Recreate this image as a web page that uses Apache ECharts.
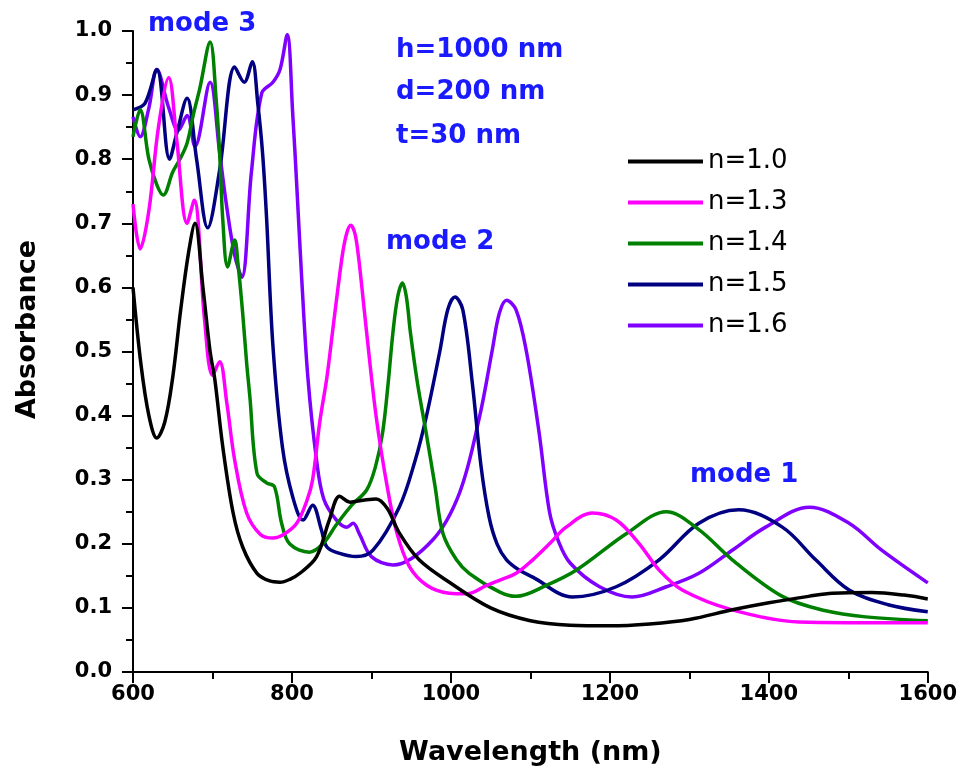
<!DOCTYPE html>
<html>
<head>
<meta charset="utf-8">
<script src="https://cdn.jsdelivr.net/npm/echarts@6/dist/echarts.min.js"></script>
<style>
  html, body { margin: 0; padding: 0; background: #fff; }
  #chart { width: 960px; height: 775px; }
</style>
</head>
<body>
<div id="chart"></div>
<script>
// absorbance spectra: [wavelength nm, absorbance]
var n10 = [[600,0.60],[610,0.48],[620,0.40],[630,0.365],[640,0.39],[650,0.46],[660,0.565],[670,0.655],[678,0.70],[688,0.60],[697,0.50],[703,0.456],[713,0.351],[726,0.248],[738,0.195],[756,0.154],[772,0.142],[785,0.14],[798,0.145],[810,0.154],[831,0.18],[847,0.237],[860,0.274],[873,0.265],[890,0.268],[906,0.27],[920,0.255],[935,0.217],[960,0.175],[998,0.14],[1050,0.10],[1100,0.08],[1150,0.073],[1200,0.072],[1250,0.075],[1300,0.082],[1354,0.097],[1400,0.108],[1450,0.118],[1480,0.123],[1530,0.124],[1570,0.12],[1600,0.114]];

var n13 = [[600,0.73],[609,0.66],[620,0.72],[632,0.85],[645,0.927],[655,0.83],[668,0.70],[677,0.736],[690,0.55],[700,0.463],[709,0.484],[718,0.42],[728,0.33],[743,0.248],[760,0.215],[776,0.209],[790,0.215],[806,0.232],[819,0.268],[826,0.30],[835,0.39],[844,0.46],[851,0.53],[858,0.60],[864,0.655],[869,0.685],[874,0.697],[879,0.685],[883,0.655],[888,0.60],[894,0.529],[906,0.398],[919,0.295],[932,0.217],[948,0.164],[970,0.135],[998,0.123],[1020,0.122],[1045,0.135],[1061,0.143],[1082,0.154],[1103,0.175],[1124,0.20],[1145,0.226],[1178,0.248],[1208,0.237],[1237,0.20],[1262,0.159],[1291,0.128],[1354,0.097],[1438,0.078],[1500,0.077],[1600,0.077]];

var n14 = [[600,0.835],[609,0.877],[620,0.80],[630,0.76],[638,0.744],[650,0.78],[659,0.80],[668,0.825],[676,0.87],[684,0.91],[697,0.983],[705,0.887],[709,0.81],[713,0.705],[719,0.632],[728,0.674],[732,0.638],[738,0.56],[743,0.482],[747,0.43],[756,0.31],[768,0.295],[778,0.289],[787,0.232],[797,0.20],[822,0.187],[839,0.20],[856,0.23],[875,0.26],[894,0.284],[905,0.32],[914,0.373],[921,0.45],[927,0.529],[933,0.585],[939,0.607],[944,0.585],[949,0.53],[958,0.45],[969,0.372],[980,0.29],[990,0.216],[1007,0.175],[1023,0.154],[1061,0.125],[1082,0.118],[1120,0.135],[1158,0.159],[1221,0.216],[1271,0.25],[1312,0.222],[1354,0.175],[1417,0.118],[1470,0.096],[1522,0.086],[1600,0.08]];

var n15 = [[600,0.877],[615,0.887],[630,0.94],[646,0.80],[655,0.84],[668,0.895],[680,0.80],[694,0.693],[709,0.783],[728,0.944],[740,0.92],[750,0.952],[757,0.887],[763,0.81],[768,0.71],[776,0.51],[788,0.351],[801,0.273],[814,0.237],[826,0.26],[837,0.222],[844,0.195],[860,0.185],[881,0.18],[902,0.19],[935,0.257],[955,0.33],[969,0.398],[986,0.50],[996,0.565],[1005,0.585],[1015,0.565],[1027,0.45],[1038,0.32],[1048,0.242],[1058,0.20],[1070,0.175],[1086,0.159],[1103,0.148],[1153,0.117],[1208,0.133],[1262,0.175],[1312,0.232],[1362,0.253],[1417,0.226],[1459,0.175],[1501,0.128],[1550,0.105],[1600,0.094]];

var n16 = [[600,0.866],[609,0.835],[620,0.88],[630,0.94],[645,0.88],[657,0.845],[668,0.868],[678,0.82],[697,0.92],[709,0.81],[718,0.725],[728,0.65],[737,0.616],[749,0.78],[762,0.903],[776,0.92],[785,0.94],[794,0.994],[801,0.87],[806,0.76],[812,0.62],[820,0.46],[831,0.33],[840,0.27],[856,0.237],[869,0.226],[877,0.232],[885,0.215],[900,0.18],[927,0.167],[977,0.206],[1011,0.28],[1036,0.398],[1052,0.502],[1061,0.56],[1070,0.58],[1082,0.565],[1095,0.50],[1111,0.373],[1124,0.25],[1135,0.205],[1150,0.17],[1187,0.133],[1228,0.117],[1271,0.133],[1312,0.154],[1354,0.19],[1396,0.226],[1451,0.257],[1501,0.232],[1542,0.19],[1600,0.139]];

var seriesNames = ['n=1.0', 'n=1.3', 'n=1.4', 'n=1.5', 'n=1.6'];
var seriesData = [n10, n13, n14, n15, n16];
var seriesColors = ['#000000', '#ff00ff', '#008000', '#000080', '#8000ff'];

var FONT = '"DejaVu Sans", Arial, sans-serif';
var BLUE = '#1a1aff';

var chart = echarts.init(document.getElementById('chart'));

var series = seriesNames.map(function (name, i) {
    return {
        name: name,
        type: 'line',
        data: seriesData[i],
        showSymbol: false,
        symbol: 'none',
        smooth: 0.35,
        lineStyle: { color: seriesColors[i], width: 3.5 },
        itemStyle: { color: seriesColors[i] },
        z: 10 - i
    };
});

function note(text, x, y) {
    return {
        type: 'text', x: x, y: y,
        style: { text: text, fill: BLUE, font: 'bold 26px ' + FONT, verticalAlign: 'top' }
    };
}

var axisFont = { color: '#000', fontSize: 27, fontWeight: 'bold', fontFamily: FONT };

chart.setOption({
    animation: false,
    backgroundColor: '#fff',
    grid: { left: 133, right: 31, top: 31, bottom: 103 },
    legend: {
        data: seriesNames,
        orient: 'vertical',
        left: 628,
        top: 148,
        padding: 0,
        icon: 'rect',
        itemWidth: 75,
        itemHeight: 4,
        itemGap: 14,
        textStyle: { color: '#000', fontSize: 26, fontFamily: FONT, lineHeight: 27 }
    },
    xAxis: {
        type: 'value',
        min: 600, max: 1600, interval: 200,
        name: 'Wavelength (nm)',
        nameLocation: 'middle',
        nameGap: 67,
        nameTextStyle: axisFont,
        axisLine: { lineStyle: { color: '#000', width: 2 } },
        axisTick: { inside: false, length: 11, lineStyle: { color: '#000', width: 2 } },
        minorTick: { show: true, splitNumber: 2, length: 7, lineStyle: { color: '#000', width: 2 } },
        splitLine: { show: false },
        axisLabel: {
            color: '#000', fontSize: 21, fontWeight: 'bold', fontFamily: FONT, margin: 12,
            formatter: function (v) { return String(v); }
        }
    },
    yAxis: {
        type: 'value',
        min: 0, max: 1.0, interval: 0.1,
        name: 'Absorbance',
        nameLocation: 'middle',
        nameGap: 92,
        nameTextStyle: Object.assign({ padding: [0, 0, 0, 44] }, axisFont),
        axisLine: { show: true, lineStyle: { color: '#000', width: 2 } },
        axisTick: { show: true, inside: false, length: 11, lineStyle: { color: '#000', width: 2 } },
        minorTick: { show: true, splitNumber: 2, length: 7, lineStyle: { color: '#000', width: 2 } },
        splitLine: { show: false },
        axisLabel: {
            color: '#000', fontSize: 21, fontWeight: 'bold', fontFamily: FONT, margin: 21,
            formatter: function (v) { return v.toFixed(1); }
        }
    },
    graphic: [
        note('mode 3', 148, 11),
        note('h=1000 nm', 396, 37),
        note('d=200 nm', 396, 79),
        note('t=30 nm', 396, 123),
        note('mode 2', 386, 229),
        note('mode 1', 690, 462)
    ],
    series: series
});
</script>
</body>
</html>
